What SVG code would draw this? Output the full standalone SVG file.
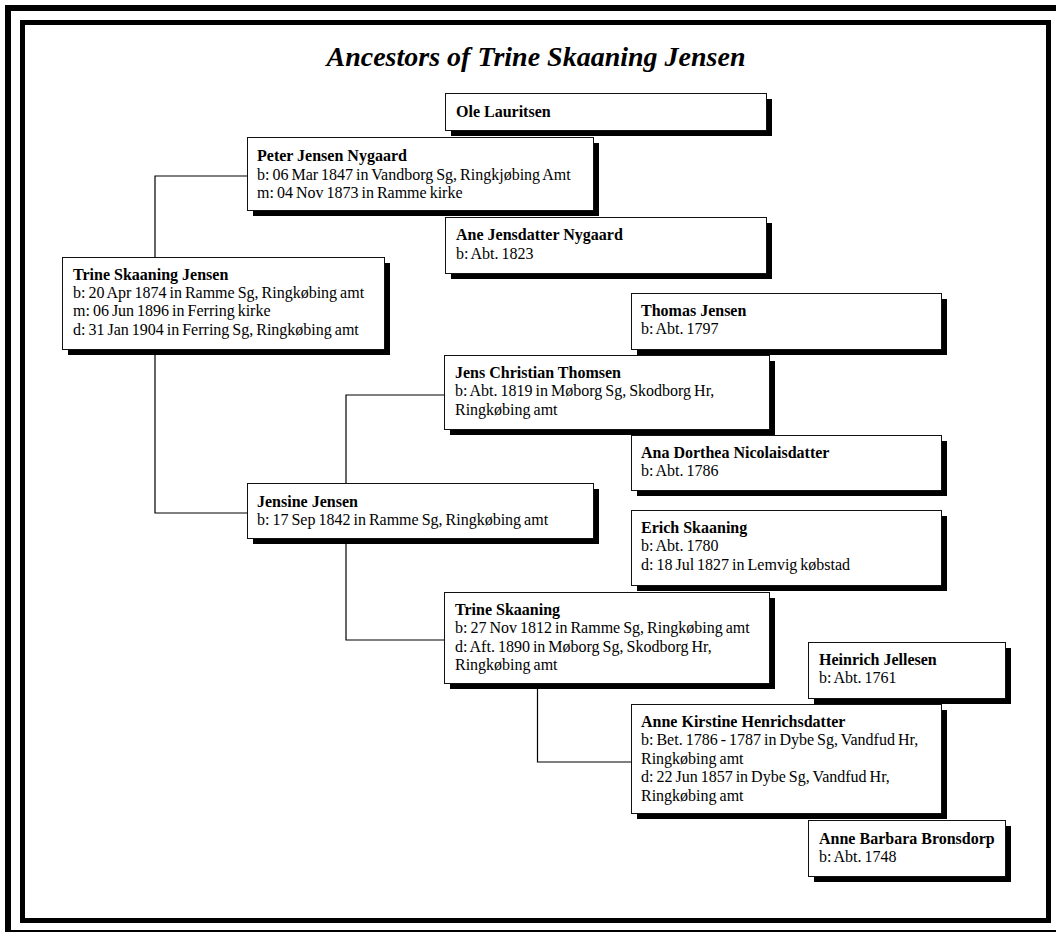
<svg xmlns="http://www.w3.org/2000/svg" width="1056" height="932" viewBox="0 0 1056 932">
<style>
.frame{fill:none;stroke:#000}
.box{fill:#fff;stroke:#111;stroke-width:1}
.sh{fill:#000}
.t{font-family:"Liberation Serif","Times New Roman",serif;font-size:16px;fill:#000;word-spacing:-1px}
.n{font-weight:bold;word-spacing:0}
.title{font-family:"Liberation Serif","Times New Roman",serif;font-size:28px;font-weight:bold;font-style:italic;fill:#000}
.con{fill:none;stroke:#000;stroke-width:1.2}
</style>
<rect width="1056" height="932" fill="#fff"/>
<rect class="frame" x="8" y="8" width="1056" height="925" stroke-width="6"/>
<rect class="frame" x="22.5" y="22.5" width="1026" height="898" stroke-width="5"/>
<text class="title" x="536" y="66" text-anchor="middle">Ancestors of Trine Skaaning Jensen</text>

<g id="connectors">
<path class="con" d="M247,176 H155 V257"/>
<path class="con" d="M155,349 V513 H247"/>
<path class="con" d="M444,395 H346 V483"/>
<path class="con" d="M346,538 V640 H444"/>
<path class="con" d="M537.5,683 V762 H631"/>
</g>

<g id="ole-lauritsen">
<rect class="sh" x="451" y="99" width="321" height="37"/>
<rect class="box" x="445.5" y="93.5" width="321" height="37"/>
<text class="t n" x="456" y="117">Ole Lauritsen</text>
</g>

<g id="peter-jensen-nygaard">
<rect class="sh" x="253" y="143" width="346" height="73"/>
<rect class="box" x="247.5" y="137.5" width="346" height="73"/>
<text class="t" x="257" y="161"><tspan class="n">Peter Jensen Nygaard</tspan><tspan x="257" dy="18.5">b: 06 Mar 1847 in Vandborg Sg, Ringkjøbing Amt</tspan><tspan x="257" dy="18.5">m: 04 Nov 1873 in Ramme kirke</tspan></text>
</g>

<g id="ane-jensdatter-nygaard">
<rect class="sh" x="451" y="223" width="321" height="56"/>
<rect class="box" x="445.5" y="217.5" width="321" height="56"/>
<text class="t" x="456" y="240"><tspan class="n">Ane Jensdatter Nygaard</tspan><tspan x="456" dy="18.5">b: Abt. 1823</tspan></text>
</g>

<g id="trine-skaaning-jensen">
<rect class="sh" x="68" y="263" width="322" height="92"/>
<rect class="box" x="62.5" y="257.5" width="322" height="92"/>
<text class="t" x="73" y="280"><tspan class="n">Trine Skaaning Jensen</tspan><tspan x="73" dy="18.2">b: 20 Apr 1874 in Ramme Sg, Ringkøbing amt</tspan><tspan x="73" dy="18.2">m: 06 Jun 1896 in Ferring kirke</tspan><tspan x="73" dy="18.2">d: 31 Jan 1904 in Ferring Sg, Ringkøbing amt</tspan></text>
</g>

<g id="thomas-jensen">
<rect class="sh" x="637" y="299" width="310" height="56"/>
<rect class="box" x="631.5" y="293.5" width="310" height="56"/>
<text class="t" x="641" y="316"><tspan class="n">Thomas Jensen</tspan><tspan x="641" dy="18.3">b: Abt. 1797</tspan></text>
</g>

<g id="jens-christian-thomsen">
<rect class="sh" x="450" y="361" width="325" height="74"/>
<rect class="box" x="444.5" y="355.5" width="325" height="74"/>
<text class="t" x="455" y="378"><tspan class="n">Jens Christian Thomsen</tspan><tspan x="455" dy="18.3">b: Abt. 1819 in Møborg Sg, Skodborg Hr,</tspan><tspan x="455" dy="18.3">Ringkøbing amt</tspan></text>
</g>

<g id="ana-dorthea-nicolaisdatter">
<rect class="sh" x="637" y="441" width="310" height="55"/>
<rect class="box" x="631.5" y="435.5" width="310" height="55"/>
<text class="t" x="641" y="458"><tspan class="n">Ana Dorthea Nicolaisdatter</tspan><tspan x="641" dy="18.3">b: Abt. 1786</tspan></text>
</g>

<g id="jensine-jensen">
<rect class="sh" x="253" y="489" width="346" height="55"/>
<rect class="box" x="247.5" y="483.5" width="346" height="55"/>
<text class="t" x="257" y="507"><tspan class="n">Jensine Jensen</tspan><tspan x="257" dy="18.3">b: 17 Sep 1842 in Ramme Sg, Ringkøbing amt</tspan></text>
</g>

<g id="erich-skaaning">
<rect class="sh" x="637" y="516" width="310" height="75"/>
<rect class="box" x="631.5" y="510.5" width="310" height="75"/>
<text class="t" x="641" y="533"><tspan class="n">Erich Skaaning</tspan><tspan x="641" dy="18.3">b: Abt. 1780</tspan><tspan x="641" dy="18.3">d: 18 Jul 1827 in Lemvig købstad</tspan></text>
</g>

<g id="trine-skaaning">
<rect class="sh" x="450" y="598" width="325" height="91"/>
<rect class="box" x="444.5" y="592.5" width="325" height="91"/>
<text class="t" x="455" y="615"><tspan class="n">Trine Skaaning</tspan><tspan x="455" dy="18.3">b: 27 Nov 1812 in Ramme Sg, Ringkøbing amt</tspan><tspan x="455" dy="18.3">d: Aft. 1890 in Møborg Sg, Skodborg Hr,</tspan><tspan x="455" dy="18.3">Ringkøbing amt</tspan></text>
</g>

<g id="heinrich-jellesen">
<rect class="sh" x="814" y="648" width="197" height="56"/>
<rect class="box" x="808.5" y="642.5" width="197" height="56"/>
<text class="t" x="819" y="665"><tspan class="n">Heinrich Jellesen</tspan><tspan x="819" dy="18.3">b: Abt. 1761</tspan></text>
</g>

<g id="anne-kirstine-henrichsdatter">
<rect class="sh" x="637" y="710" width="310" height="109"/>
<rect class="box" x="631.5" y="704.5" width="310" height="109"/>
<text class="t" x="641" y="727"><tspan class="n">Anne Kirstine Henrichsdatter</tspan><tspan x="641" dy="18.4">b: Bet. 1786 - 1787 in Dybe Sg, Vandfud Hr,</tspan><tspan x="641" dy="18.4">Ringkøbing amt</tspan><tspan x="641" dy="18.4">d: 22 Jun 1857 in Dybe Sg, Vandfud Hr,</tspan><tspan x="641" dy="18.4">Ringkøbing amt</tspan></text>
</g>

<g id="anne-barbara-bronsdorp">
<rect class="sh" x="814" y="826" width="197" height="56"/>
<rect class="box" x="808.5" y="820.5" width="197" height="56"/>
<text class="t" x="819" y="844"><tspan class="n">Anne Barbara Bronsdorp</tspan><tspan x="819" dy="18.3">b: Abt. 1748</tspan></text>
</g>
</svg>
